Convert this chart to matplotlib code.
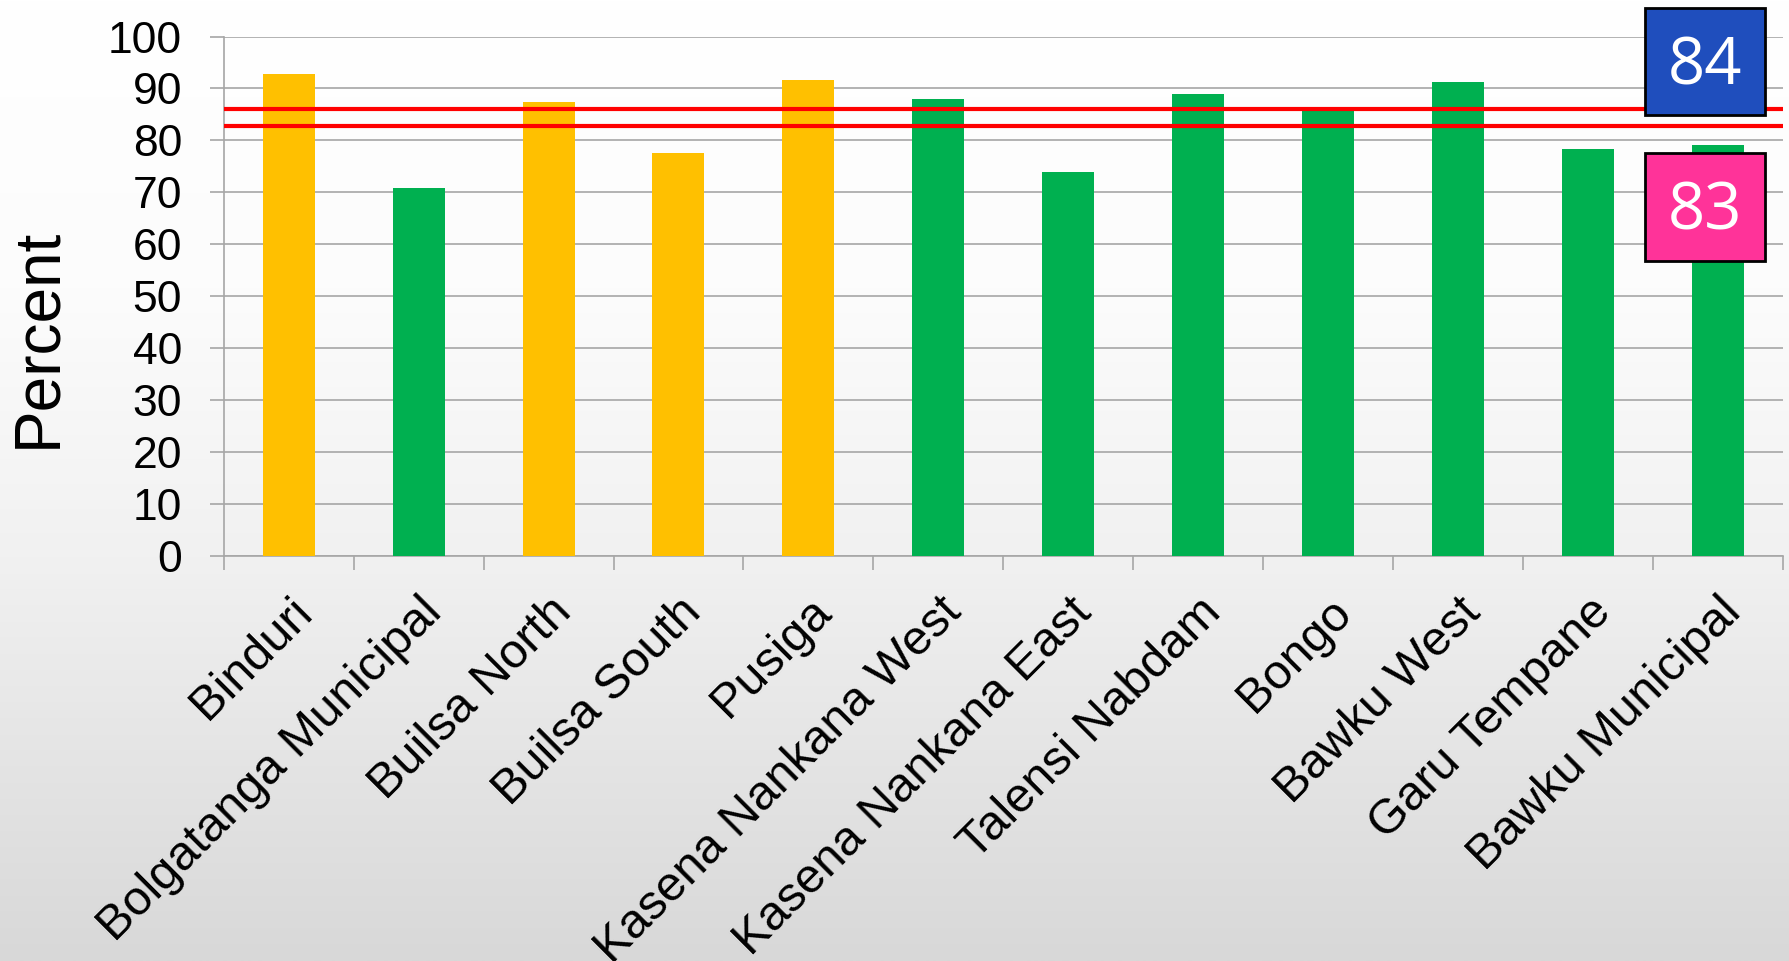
import matplotlib.pyplot as plt
import matplotlib.transforms as mtransforms
import numpy as np

districts = [
    "Binduri", "Bolgatanga Municipal", "Builsa North", "Builsa South",
    "Pusiga", "Kasena Nankana West", "Kasena Nankana East", "Talensi Nabdam",
    "Bongo", "Bawku West", "Garu Tempane", "Bawku Municipal",
]
percent = [92.8, 70.8, 87.4, 77.5, 91.6, 88.0, 74.0, 88.9, 86.5, 91.2, 78.3, 79.2]
below_target = [False, True, False, False, False, True, True, True, True, True, True, True]
ref_lines = [86.0, 82.8]
box_labels = ["84", "83"]

YELLOW = "#ffc000"
GREEN = "#00b050"

plt.rcParams["font.family"] = ["Liberation Sans", "DejaVu Sans"]

fig = plt.figure(figsize=(17.9, 9.61), dpi=100)

# slide-style grey gradient behind everything
bg = fig.add_axes([0, 0, 1, 1], zorder=-10)
stops_y = [0.0, 0.3, 0.58, 1.0]
stops_v = [255, 252, 241, 216]
shade = np.interp(np.linspace(0, 1, 400), stops_y, stops_v) / 255.0
bg.imshow(np.tile(shade[:, None, None], (1, 2, 3)), aspect="auto", extent=[0, 1, 0, 1])
bg.axis("off")

ax = fig.add_axes([0.125, 0.4214, 0.871, 0.5406])
ax.patch.set_alpha(0)

x = np.arange(len(districts))
colors = [GREEN if b else YELLOW for b in below_target]
ax.bar(x, percent, width=0.4, color=colors, zorder=3)

for v in ref_lines:
    ax.axhline(v, color="#ff0000", lw=3, zorder=4)

ax.set_xlim(-0.5, len(districts) - 0.5)
ax.set_ylim(0, 100)
ax.set_yticks(range(0, 101, 10))
ax.yaxis.grid(True, color="#a6a6a6", lw=1.2, zorder=0)
ax.set_xticks(np.arange(len(districts) + 1) - 0.5, minor=False)
ax.set_xticklabels([])
ax.set_xticks(x, minor=True)
ax.set_xticklabels(districts, minor=True, rotation=45, ha="right", va="top",
                   rotation_mode="anchor", fontsize=35)
shift = mtransforms.ScaledTranslation(-13 / 72, 0, fig.dpi_scale_trans)
for lbl in ax.get_xticklabels(minor=True):
    lbl.set_transform(lbl.get_transform() + shift)
ax.tick_params(axis="x", which="minor", length=0, pad=24)
ax.tick_params(axis="x", which="major", length=10, color="#a6a6a6", width=1.2)
ax.tick_params(axis="y", length=10, color="#a6a6a6", width=1.2, labelsize=32, pad=20)

for side in ["top", "right"]:
    ax.spines[side].set_visible(False)
for side in ["left", "bottom"]:
    ax.spines[side].set_color("#a6a6a6")
    ax.spines[side].set_linewidth(1.2)

ax.set_ylabel("Percent", fontsize=46, va="center")
ax.yaxis.set_label_coords(-0.119, 0.42)

# annotation boxes on the right
box_specs = [(0.919, 0.880, 0.067, 0.112, "#1f4ebd", box_labels[0]),
             (0.919, 0.728, 0.067, 0.113, "#ff3399", box_labels[1])]
for bx, by, bw, bh, col, txt in box_specs:
    fig.patches.append(plt.Rectangle((bx, by), bw, bh, transform=fig.transFigure,
                                     facecolor=col, edgecolor="black", lw=2, zorder=10))
    fig.text(bx + bw / 2, by + bh / 2 - 0.006, txt, color="white", fontsize=47,
             family=["Open Sans", "DejaVu Sans"], ha="center", va="center", zorder=11)

fig.savefig("out.png", dpi=100)
